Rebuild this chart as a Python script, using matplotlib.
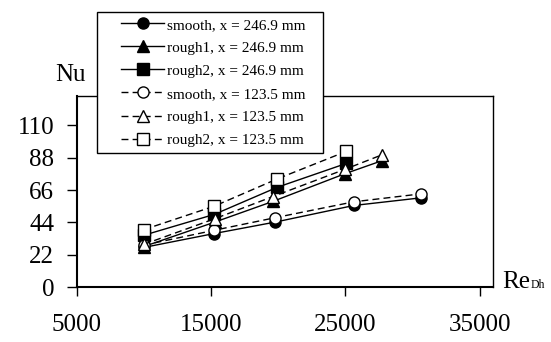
import matplotlib
matplotlib.use("Agg")
import matplotlib.pyplot as plt
from matplotlib.patches import Rectangle

plt.rcParams['font.family'] = ['Liberation Serif', 'DejaVu Serif']

re_circ = [10000, 15200, 19800, 25650, 30650]
nu_smooth_246 = [26.9, 36.3, 44.2, 55.5, 60.7]
nu_smooth_123 = [28.5, 38.5, 47.2, 58.0, 63.4]

re_tri = [10000, 15300, 19600, 24950, 27750]
nu_rough1_246 = [27.5, 44.2, 58.2, 77.0, 86.0]
nu_rough1_123 = [29.0, 46.5, 61.5, 80.0, 90.0]

re_sq = [10000, 15250, 19950, 25080]
nu_rough2_246 = [35.2, 49.4, 67.9, 84.1]
nu_rough2_123 = [39.0, 55.0, 73.6, 92.3]

yticks = [0, 22, 44, 66, 88, 110]
xticks = [5000, 15000, 25000, 35000]

W, H = 551, 342
fig = plt.figure(figsize=(W / 100, H / 100), dpi=100)
ax = fig.add_axes([76.5 / W, 1 - 287 / H, (493 - 76.5) / W, (287 - 96) / H])

ms = 8
kw = dict(color='black', lw=1.0, markersize=ms, markeredgecolor='black', markeredgewidth=1.0)
l1, = ax.plot(re_circ, nu_smooth_246, '-', marker='o', markerfacecolor='black', label='smooth, x = 246.9 mm', **kw)
l2, = ax.plot(re_tri, nu_rough1_246, '-', marker='^', markerfacecolor='black', label='rough1, x = 246.9 mm', **kw)
l3, = ax.plot(re_sq, nu_rough2_246, '-', marker='s', markerfacecolor='black', label='rough2, x = 246.9 mm', **kw)
l4, = ax.plot(re_circ, nu_smooth_123, '--', marker='o', markerfacecolor='white', label='smooth, x = 123.5 mm', dashes=(5, 3), **kw)
l5, = ax.plot(re_tri, nu_rough1_123, '--', marker='^', markerfacecolor='white', label='rough1, x = 123.5 mm', dashes=(5, 3), **kw)
l6, = ax.plot(re_sq, nu_rough2_123, '--', marker='s', markerfacecolor='white', label='rough2, x = 123.5 mm', dashes=(5, 3), **kw)

ax.set_xlim(5000, 36000)
ax.set_ylim(0, 130)
ax.set_xticks(xticks)
ax.set_yticks(yticks)
ax.set_xticklabels([str(v) for v in xticks])
ax.set_yticklabels([str(v) for v in yticks])
ax.tick_params(axis='y', direction='out', length=7, width=1, labelsize=18, pad=9)
ax.tick_params(axis='x', direction='out', length=6.5, width=1, labelsize=18, pad=13)
for s in ax.spines.values():
    s.set_linewidth(1.0)
ax.spines['left'].set_linewidth(1.5)
ax.spines['bottom'].set_linewidth(1.5)

fig.text(55 / W, 1 - 81 / H, 'Nu', fontsize=18, ha='left', va='baseline')
fig.text(502 / W, 1 - 288 / H, 'Re', fontsize=18, ha='left', va='baseline')
fig.text(531 / W, 1 - 288 / H, 'Dh', fontsize=8.5, ha='left', va='baseline')

# legend box
fig.patches.append(Rectangle((97 / W, 1 - 153 / H), (323 - 97) / W, (153 - 12) / H,
                             transform=fig.transFigure, facecolor='white',
                             edgecolor='black', linewidth=1.0, zorder=5))
leg = fig.legend(handles=[l1, l2, l3, l4, l5, l6], loc='upper left',
                 bbox_to_anchor=(115 / W, 1 - 12 / H), fontsize=11,
                 handlelength=2.8, handletextpad=0.2, labelspacing=0.61,
                 borderpad=0.4, borderaxespad=0, frameon=False)
leg.set_zorder(6)

fig.savefig('out.png', dpi=100)
